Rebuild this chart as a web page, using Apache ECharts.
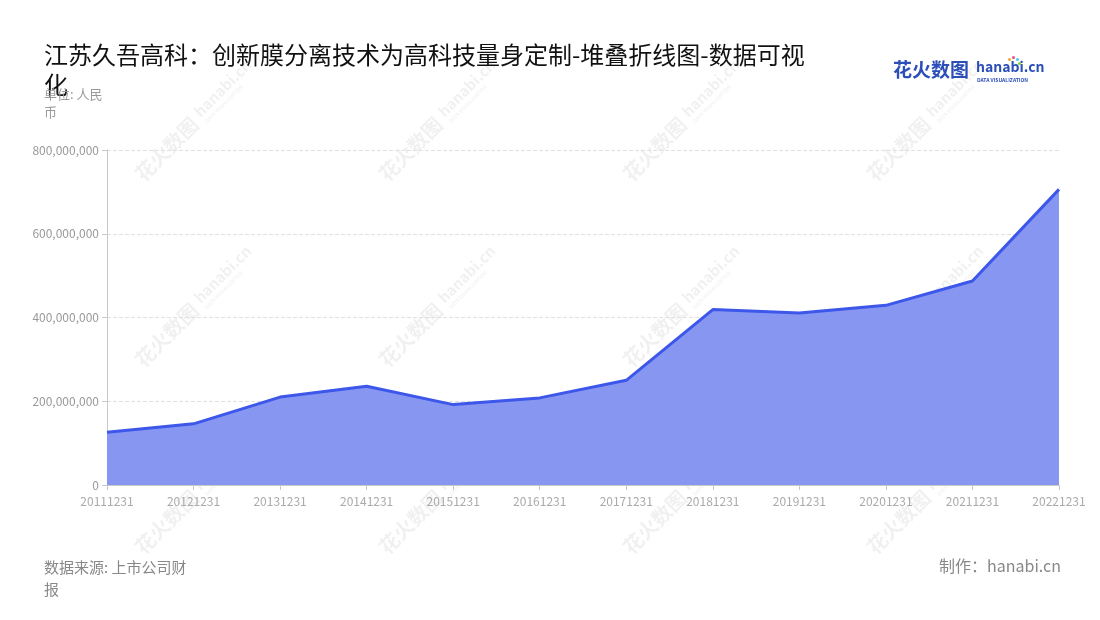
<!DOCTYPE html>
<html>
<head>
<meta charset="utf-8">
<script src="https://cdn.jsdelivr.net/npm/echarts@6/dist/echarts.min.js"></script>
<style>html,body{margin:0;padding:0;background:#fff;}#main{width:1100px;height:620px;}</style>
</head>
<body>
<div id="main"></div>
<script>
var categories = ['20111231','20121231','20131231','20141231','20151231','20161231','20171231','20181231','20191231','20201231','20211231','20221231'];
var revenue = [126000000, 146000000, 210000000, 236000000, 192000000, 208000000, 250000000, 419000000, 411000000, 429000000, 487000000, 706000000];
var yTicks = { min: 0, max: 800000000, interval: 200000000 };

var FONT = '"Noto Sans CJK SC","Noto Sans",sans-serif';
var chart = echarts.init(document.getElementById('main'));

function watermark(cx, cy) {
  return {
    type: 'group', x: cx, y: cy, rotation: Math.PI / 4, silent: true, z: 100,
    children: [
      { type: 'text', x: -58, y: -11, style: { text: '花火数图', font: 'bold 20px ' + FONT, fill: 'rgba(0,0,0,0.06)' } },
      { type: 'text', x: 28, y: -12, style: { text: 'hanabi.cn', font: 'bold 15px ' + FONT, fill: 'rgba(0,0,0,0.06)' } },
      { type: 'text', x: 29, y: 5, style: { text: 'DATA VISUALIZATION', font: 'bold 5px ' + FONT, fill: 'rgba(0,0,0,0.06)' } }
    ]
  };
}
var wm = [];
[180, 424, 668, 912].forEach(function (x) {
  [137, 323, 510].forEach(function (y) { wm.push(watermark(x, y)); });
});

var option = {
  backgroundColor: '#fff',
  textStyle: { fontFamily: FONT },
  title: [
    {
      text: '江苏久吾高科：创新膜分离技术为高科技量身定制-堆叠折线图-数据可视化',
      left: 39, top: 35,
      textStyle: { fontSize: 24, fontWeight: 'normal', color: '#111', width: 770, overflow: 'break', lineHeight: 30, fontFamily: FONT }
    },
    {
      text: '单位: 人民币',
      left: 39, top: 80,
      textStyle: { fontSize: 13, fontWeight: 'normal', color: '#999', width: 68, overflow: 'break', lineHeight: 18, fontFamily: FONT }
    },
    {
      text: '数据来源: 上市公司财报',
      left: 39, top: 551,
      textStyle: { fontSize: 15, fontWeight: 'normal', color: '#888', width: 160, overflow: 'break', lineHeight: 22, fontFamily: FONT }
    },
    {
      text: '制作：hanabi.cn',
      right: 34, top: 553,
      textStyle: { fontSize: 16, fontWeight: 'normal', color: '#888', fontFamily: FONT }
    }
  ],
  graphic: wm.concat([
    { type: 'text', left: 893, top: 60, style: { text: '花火数图', font: 'bold 19px ' + FONT, fill: '#2b4eb8' } },
    { type: 'text', left: 976, top: 60, style: { text: 'hanabi.cn', font: 'bold 14px ' + FONT, fill: '#2b4eb8' } },
    { type: 'text', left: 977, top: 78, style: { text: 'DATA VISUALIZATION', font: 'bold 5px ' + FONT, fill: '#2b4eb8' } },
    { type: 'circle', left: 1008, top: 58, shape: { r: 1.5 }, style: { fill: '#f5a623' } },
    { type: 'circle', left: 1012, top: 56, shape: { r: 1.5 }, style: { fill: '#e94b8a' } },
    { type: 'circle', left: 1016, top: 58, shape: { r: 1.5 }, style: { fill: '#4fc3f7' } },
    { type: 'circle', left: 1018, top: 62, shape: { r: 1.5 }, style: { fill: '#7ed321' } }
  ]),
  grid: { left: 107, right: 41, top: 150, bottom: 135, containLabel: false },
  xAxis: {
    type: 'category',
    data: categories,
    boundaryGap: false,
    axisLine: { lineStyle: { color: '#c8c8c8' } },
    axisTick: { show: true, alignWithLabel: true, lineStyle: { color: '#c8c8c8' } },
    axisLabel: { color: '#aaa', fontSize: 12, margin: 10, fontFamily: FONT }
  },
  yAxis: {
    type: 'value',
    min: yTicks.min, max: yTicks.max, interval: yTicks.interval,
    axisLine: { show: true, lineStyle: { color: '#c8c8c8' } },
    axisTick: { show: true, lineStyle: { color: '#c8c8c8' } },
    axisLabel: {
      color: '#999', fontSize: 12, fontFamily: FONT,
      formatter: function (v) { return v.toLocaleString('en-US'); }
    },
    splitLine: { show: true, lineStyle: { color: '#e0e0e0', type: 'dashed' } }
  },
  series: [{
    name: '营业收入',
    type: 'line',
    stack: 'total',
    data: revenue,
    symbol: 'none',
    lineStyle: { color: '#3c57e9', width: 3 },
    itemStyle: { color: '#3c57e9' },
    areaStyle: { color: '#8797f1', opacity: 1 },
    z: 2
  }]
};
chart.setOption(option);
</script>
</body>
</html>
